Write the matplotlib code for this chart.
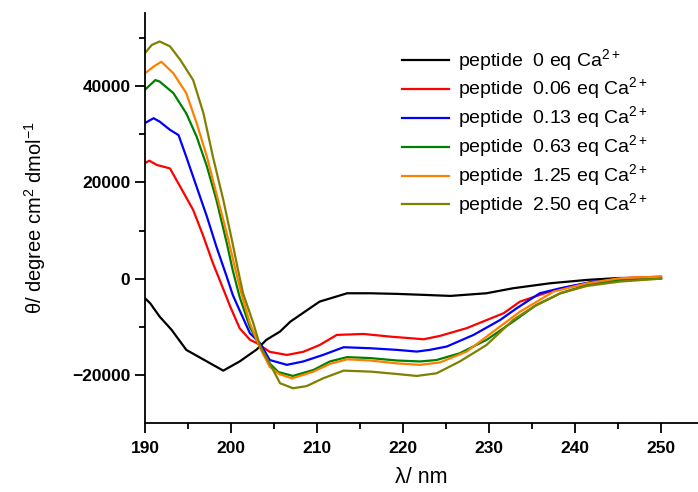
import matplotlib
matplotlib.use("Agg")
import matplotlib.pyplot as plt
from matplotlib.ticker import MultipleLocator

plt.rcParams['font.family'] = ['Liberation Sans', 'DejaVu Sans']
plt.rcParams['mathtext.fontset'] = 'custom'
plt.rcParams['mathtext.rm'] = 'Liberation Sans'

# CD spectra (wavelength nm, ellipticity)
wl_0 = [190, 190.6, 191.7, 193.1, 194.8, 197.2, 199.1, 199.9, 201.0, 203.0, 204.1, 205.7,
        206.9, 210.3, 213.5, 216.2, 219.3, 222.4, 225.5, 229.7, 232.8, 237.1, 241.4, 245.2, 250]
th_0 = [-4000, -5040, -7800, -10570, -14700, -17100, -19000, -18200, -17100, -14600, -12640, -10900,
        -8850, -4700, -2970, -2970, -3100, -3300, -3520, -2970, -1930, -900, -200, 200, 200]

wl_006 = [190, 190.5, 191.4, 192.9, 194.1, 195.6, 196.8, 197.9, 199.3, 199.9, 201.0, 202.2, 203.0,
          204.5, 206.5, 208.4, 210.3, 212.3, 215.4, 218.5, 222.4, 224.3, 227.4, 231.7, 233.6,
          236.7, 239.4, 242.9, 246.0, 250]
th_006 = [24000, 24500, 23600, 22900, 19100, 14300, 8770, 3250, -2970, -5700, -10200, -12600, -13300,
          -15100, -15750, -15100, -13700, -11600, -11400, -11950, -12500, -11800, -10200, -7100, -4700,
          -2830, -1600, -550, 200, 480]

wl_013 = [190, 191.0, 191.7, 192.9, 193.9, 194.8, 196.0, 197.2, 198.3, 199.5, 200.2, 201.0, 202.2,
          203.4, 204.5, 206.5, 208.4, 210.7, 213.1, 216.2, 219.3, 221.6, 223.1, 225.1, 228.2,
          231.3, 233.2, 235.9, 238.3, 242.1, 250]
th_013 = [32300, 33300, 32600, 30900, 29800, 25300, 19100, 12900, 6700, 480, -3300, -6500, -11250,
          -13330, -16800, -17800, -17100, -15750, -14150, -14360, -14700, -15050, -14700, -14000, -11600,
          -8500, -6100, -2970, -1930, -550, 200]

wl_063 = [190, 191.2, 191.7, 193.3, 194.8, 196.0, 197.2, 198.3, 199.5, 200.2, 201.0, 202.2, 203.4,
          204.5, 205.5, 207.2, 209.6, 211.5, 213.5, 216.2, 219.3, 222.0, 223.9, 226.6, 229.7,
          232.8, 235.5, 238.3, 241.4, 245.2, 250]
th_063 = [39200, 41200, 40900, 38500, 34300, 29500, 23300, 16400, 7500, 1800, -3700, -10000, -14000,
          -17500, -19300, -20100, -18850, -17100, -16200, -16400, -16900, -17100, -16800, -15400, -12640,
          -8850, -5400, -2970, -1240, -200, 60]

wl_125 = [190, 191.0, 191.9, 193.3, 194.8, 196.0, 197.2, 198.3, 199.5, 200.5, 201.2, 202.2,
          203.4, 204.5, 205.6, 207.1, 209.6, 211.5, 213.5, 216.2, 219.3, 222.0, 224.3, 227.4,
          230.5, 233.6, 235.9, 237.5, 241.4, 245.2, 250]
th_125 = [42600, 44000, 45000, 42600, 38500, 32300, 25300, 17700, 9500, 2000, -2970, -9200,
          -14360, -18200, -19700, -20600, -19200, -17600, -16650, -16900, -17500, -17800, -17300, -15050,
          -10900, -6780, -4350, -2630, -900, 140, 480]

wl_250 = [190, 190.8, 191.7, 192.9, 194.1, 195.6, 196.8, 197.9, 199.1, 200.1, 200.8, 201.4, 202.6,
          203.4, 204.9, 205.7, 207.2, 208.8, 210.7, 213.1, 216.2, 219.3, 221.6, 223.9, 226.6,
          229.7, 232.8, 235.2, 238.3, 241.4, 245.2, 250]
th_250 = [46800, 48500, 49200, 48200, 45400, 41200, 34300, 25300, 16400, 8100, 2000, -2970, -9200,
          -14000, -18850, -21600, -22650, -22200, -20600, -19000, -19200, -19700, -20100, -19550, -17100,
          -13700, -8500, -5740, -2970, -1450, -550, 60]

labels = ['peptide  0 eq Ca$^{2+}$', 'peptide  0.06 eq Ca$^{2+}$', 'peptide  0.13 eq Ca$^{2+}$',
          'peptide  0.63 eq Ca$^{2+}$', 'peptide  1.25 eq Ca$^{2+}$', 'peptide  2.50 eq Ca$^{2+}$']
colors = ['#000000', '#FF0000', '#0000FF', '#008000', '#FF8000', '#808000']

series = [(wl_0, th_0), (wl_006, th_006), (wl_013, th_013),
          (wl_063, th_063), (wl_125, th_125), (wl_250, th_250)]

fig = plt.figure(figsize=(6.98, 4.92), dpi=100)
ax = fig.add_axes([145/698, 1 - 423/492, 553/698, 410/492])

for (x, y), lab, c in zip(series, labels, colors):
    ax.plot(x, y, color=c, lw=1.6, label=lab)

ax.set_xlim(190, 254.3)
ax.set_ylim(-29850, 55100)
ax.xaxis.set_major_locator(MultipleLocator(10))
ax.xaxis.set_minor_locator(MultipleLocator(5))
ax.yaxis.set_major_locator(MultipleLocator(20000))
ax.yaxis.set_minor_locator(MultipleLocator(10000))

ax.spines['top'].set_visible(False)
ax.spines['right'].set_visible(False)
for s in ['left', 'bottom']:
    ax.spines[s].set_linewidth(1.3)
ax.tick_params(which='major', direction='out', length=7, width=1.3, labelsize=12.5)
ax.tick_params(axis='x', which='major', pad=6)
ax.tick_params(which='minor', direction='out', length=4, width=1.3)
for t in ax.get_xticklabels() + ax.get_yticklabels():
    t.set_fontweight('bold')

ax.set_xlabel('λ/ nm', fontsize=15.5, labelpad=8)
ax.set_ylabel('θ/ degree cm$^2$ dmol$^{-1}$', fontsize=14.5, labelpad=17)

ax.legend(loc='upper left', bbox_to_anchor=(0.433, 0.96), frameon=False, fontsize=14,
          handlelength=2.4, handletextpad=0.5, labelspacing=0.12)

fig.savefig('out.png', dpi=100)
